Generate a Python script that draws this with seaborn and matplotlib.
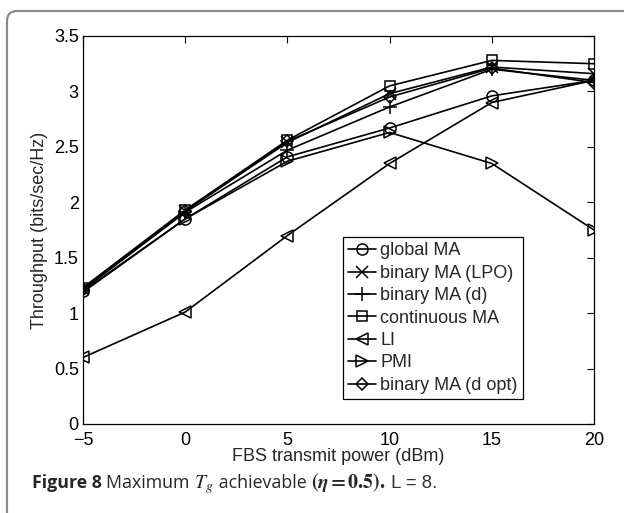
import matplotlib
matplotlib.use("Agg")
import matplotlib.pyplot as plt
import matplotlib.patches as mpatches
from matplotlib.ticker import FuncFormatter
import seaborn as sns
import pandas as pd

# ---- data ----
power_dbm = [-5, 0, 5, 10, 15, 20]
global_ma = [1.20, 1.85, 2.41, 2.67, 2.96, 3.10]
binary_lpo = [1.22, 1.92, 2.54, 2.98, 3.22, 3.16]
binary_d = [1.21, 1.91, 2.47, 2.86, 3.20, 3.10]
continuous_ma = [1.23, 1.93, 2.56, 3.05, 3.28, 3.25]
li = [0.60, 1.01, 1.70, 2.35, 2.90, 3.10]
pmi = [1.19, 1.85, 2.37, 2.63, 2.35, 1.75]
binary_d_opt = [1.22, 1.92, 2.55, 2.95, 3.21, 3.08]

series_names = ["global MA", "binary MA (LPO)", "binary MA (d)", "continuous MA",
                "LI", "PMI", "binary MA (d opt)"]
series_values = [global_ma, binary_lpo, binary_d, continuous_ma, li, pmi, binary_d_opt]
markers = ["o", "x", "+", "s", "<", ">", "D"]
msizes = [8, 8, 10, 7.5, 8, 8, 6.5]

x_ticks = [-5, 0, 5, 10, 15, 20]
y_ticks = [0, 0.5, 1, 1.5, 2, 2.5, 3, 3.5]

sns.set_style("white")
plt.rcParams["font.family"] = ["Liberation Sans", "DejaVu Sans"]
plt.rcParams["mathtext.fontset"] = "stix"

W, H = 624, 513
FS = 13
fig = plt.figure(figsize=(W / 100, H / 100), dpi=100)
ax = fig.add_axes([83 / W, 1 - 424 / H, (594 - 83) / W, (424 - 36) / H])

for name, vals, mk, ms in zip(series_names, series_values, markers, msizes):
    df = pd.DataFrame({"x": power_dbm, "y": vals})
    sns.lineplot(data=df, x="x", y="y", ax=ax, color="black", linewidth=1.2,
                 marker=mk, markersize=ms, markerfacecolor="none",
                 markeredgecolor="black", markeredgewidth=1.1, label=name)

ax.set_xlim(-5, 20)
ax.set_ylim(0, 3.5)
ax.set_xticks(x_ticks)
ax.set_yticks(y_ticks)
ax.yaxis.set_major_formatter(FuncFormatter(lambda v, p: f"{v:g}"))
ax.xaxis.set_major_formatter(FuncFormatter(lambda v, p: f"{v:g}".replace("-", "\u2212")))
ax.tick_params(direction="in", length=5, width=0.8, top=True, right=True,
               labelsize=FS, colors="black")
ax.tick_params(axis="y", pad=3)
ax.tick_params(axis="x", pad=6)
for s in ax.spines.values():
    s.set_color("black")
    s.set_linewidth(0.9)
ax.set_xlabel("FBS transmit power (dBm)", fontsize=FS, labelpad=-1)
ax.set_ylabel("Throughput (bits/sec/Hz)", fontsize=FS, labelpad=4)

h, l = ax.get_legend_handles_labels()
leg = ax.legend(h, l, loc="upper left", bbox_to_anchor=(343 / W, 1 - 237 / H),
                bbox_transform=fig.transFigure, borderaxespad=0, fontsize=FS,
                frameon=True, fancybox=False, edgecolor="black", framealpha=1,
                handlelength=1.55, handletextpad=0.2, labelspacing=0.3,
                borderpad=0.3)
leg.get_frame().set_linewidth(0.9)

# outer rounded frame (pixel coordinates)
frame = mpatches.FancyBboxPatch((7, -50), 800, H - 11 + 50,
                                boxstyle="round,pad=0,rounding_size=10",
                                transform=None, fill=False, edgecolor="#8a8a8a",
                                linewidth=1.6, clip_on=False)
fig.add_artist(frame)

# caption built from pieces
fig.canvas.draw()
renderer = fig.canvas.get_renderer()
CF = 12.8
pieces = [
    ("Figure 8 ", dict(family=["Open Sans", "DejaVu Sans"], weight="bold", fontsize=CF)),
    ("Maximum ", dict(family=["Open Sans", "DejaVu Sans"], fontsize=CF)),
    ("$T_g$", dict(fontsize=CF + 1.5)),
    (" achievable ", dict(family=["Open Sans", "DejaVu Sans"], fontsize=CF)),
    (r"$\mathbf{(\boldsymbol{\eta} = 0.5).}$", dict(fontsize=CF + 1.5)),
    (" L = 8.", dict(family=["Liberation Sans", "DejaVu Sans"], fontsize=CF + 0.5,
                     color="#333333", weight="light")),
]
xpix = 32
ybase = H - 488
for txt, kw in pieces:
    t = fig.text(xpix / W, ybase / H, txt, ha="left", va="baseline", **kw)
    bb = t.get_window_extent(renderer=renderer)
    xpix += bb.width

fig.savefig("out.png", dpi=100)
